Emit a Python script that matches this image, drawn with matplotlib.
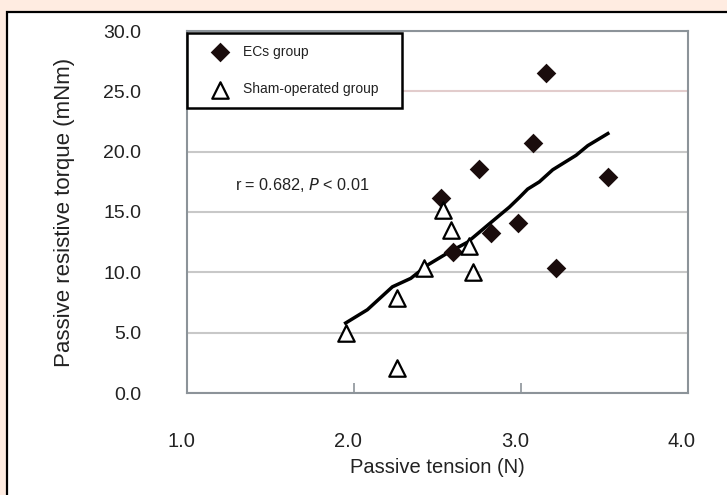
import matplotlib.pyplot as plt
import matplotlib.transforms as mtransforms
from matplotlib.patches import Rectangle

# data
ecs_x = [2.52, 2.59, 2.75, 2.82, 2.98, 3.07, 3.15, 3.21, 3.52]
ecs_y = [16.2, 11.7, 18.6, 13.3, 14.1, 20.7, 26.5, 10.4, 17.9]

sham_x = [1.95, 2.26, 2.26, 2.42, 2.53, 2.58, 2.69, 2.71]
sham_y = [5.0, 7.9, 2.1, 10.4, 15.2, 13.5, 12.2, 10.0]

fit_x = [1.95, 2.08, 2.23, 2.34, 2.44, 2.56, 2.68, 2.80, 2.93, 2.99, 3.04,
         3.11, 3.19, 3.33, 3.40, 3.52]
fit_y = [5.8, 6.9, 8.8, 9.5, 10.6, 11.6, 12.5, 13.9, 15.4, 16.2, 16.9,
         17.5, 18.5, 19.7, 20.5, 21.5]

x_ticks = [1.0, 2.0, 3.0, 4.0]
y_ticks = [0, 5, 10, 15, 20, 25, 30]

plt.rcParams['font.family'] = ['Liberation Sans', 'DejaVu Sans']

fig = plt.figure(figsize=(7.27, 4.95), dpi=100)
fig.patch.set_facecolor('#ffece1')

# white panel with black frame, behind everything
frame = Rectangle((7 / 727, -0.1), 1.0, 1 - 12 / 495 + 0.1, transform=fig.transFigure,
                  facecolor='white', edgecolor='black', linewidth=1.6, zorder=-10)
fig.patches.append(frame)

ax = fig.add_axes([187 / 727, 1 - 393 / 495, 501 / 727, 362 / 495], zorder=5)
ax.set_facecolor('white')

ax.set_xlim(1.0, 4.0)
ax.set_ylim(0, 30)
ax.set_xticks(x_ticks)
ax.set_xticklabels(['%.1f' % v for v in x_ticks])
ax.set_yticks(y_ticks)
ax.set_yticklabels(['%.1f' % v for v in y_ticks])

ax.tick_params(axis='y', length=0, pad=33, labelsize=14, labelcolor='#222222')
ax.tick_params(axis='x', direction='in', length=7, width=1.2, color='#8c9399',
               pad=28, labelsize=14.5, labelcolor='#222222')
for lab in ax.get_xticklabels():
    lab.set_transform(lab.get_transform() +
                      mtransforms.ScaledTranslation(-6 / 100, 0, fig.dpi_scale_trans))

for s in ax.spines.values():
    s.set_color('#8c9399')
    s.set_linewidth(1.5)

ax.yaxis.grid(True, color='#c8c8c8', linewidth=1.5)
ax.set_axisbelow(True)
ax.get_ygridlines()[5].set_color('#e2cccc')

ax.plot(fit_x, fit_y, color='black', linewidth=2.5, zorder=2)
ax.scatter(ecs_x, ecs_y, marker='D', s=100, color='#1a0c0c', linewidths=0,
           zorder=3, label='ECs group')
ax.scatter(sham_x, sham_y, marker='^', s=140, facecolors='white', edgecolors='black',
           linewidths=1.6, zorder=3, label='Sham-operated group')

ax.text(1.29, 17.2, r'r = 0.682, $\it{P}$ < 0.01', fontsize=11.7, va='center',
        color='#222222')

leg = ax.legend(loc='upper left', bbox_to_anchor=(0.0, 0.795, 0.43, 0.2),
                mode='expand', borderaxespad=0, fancybox=False, fontsize=10,
                labelspacing=1.7, handletextpad=0.15, borderpad=0.85,
                handlelength=3.0)
leg.get_frame().set_edgecolor('black')
leg.get_frame().set_linewidth(1.8)
leg.get_frame().set_alpha(1)
for t in leg.get_texts():
    t.set_color('#222222')

ax.set_xlabel('Passive tension (N)', fontsize=14.5, labelpad=5, color='#222222')
ax.set_ylabel('Passive resistive torque (mNm)', fontsize=16, labelpad=20,
              color='#222222')

fig.savefig('out.png', dpi=100, facecolor=fig.get_facecolor())
